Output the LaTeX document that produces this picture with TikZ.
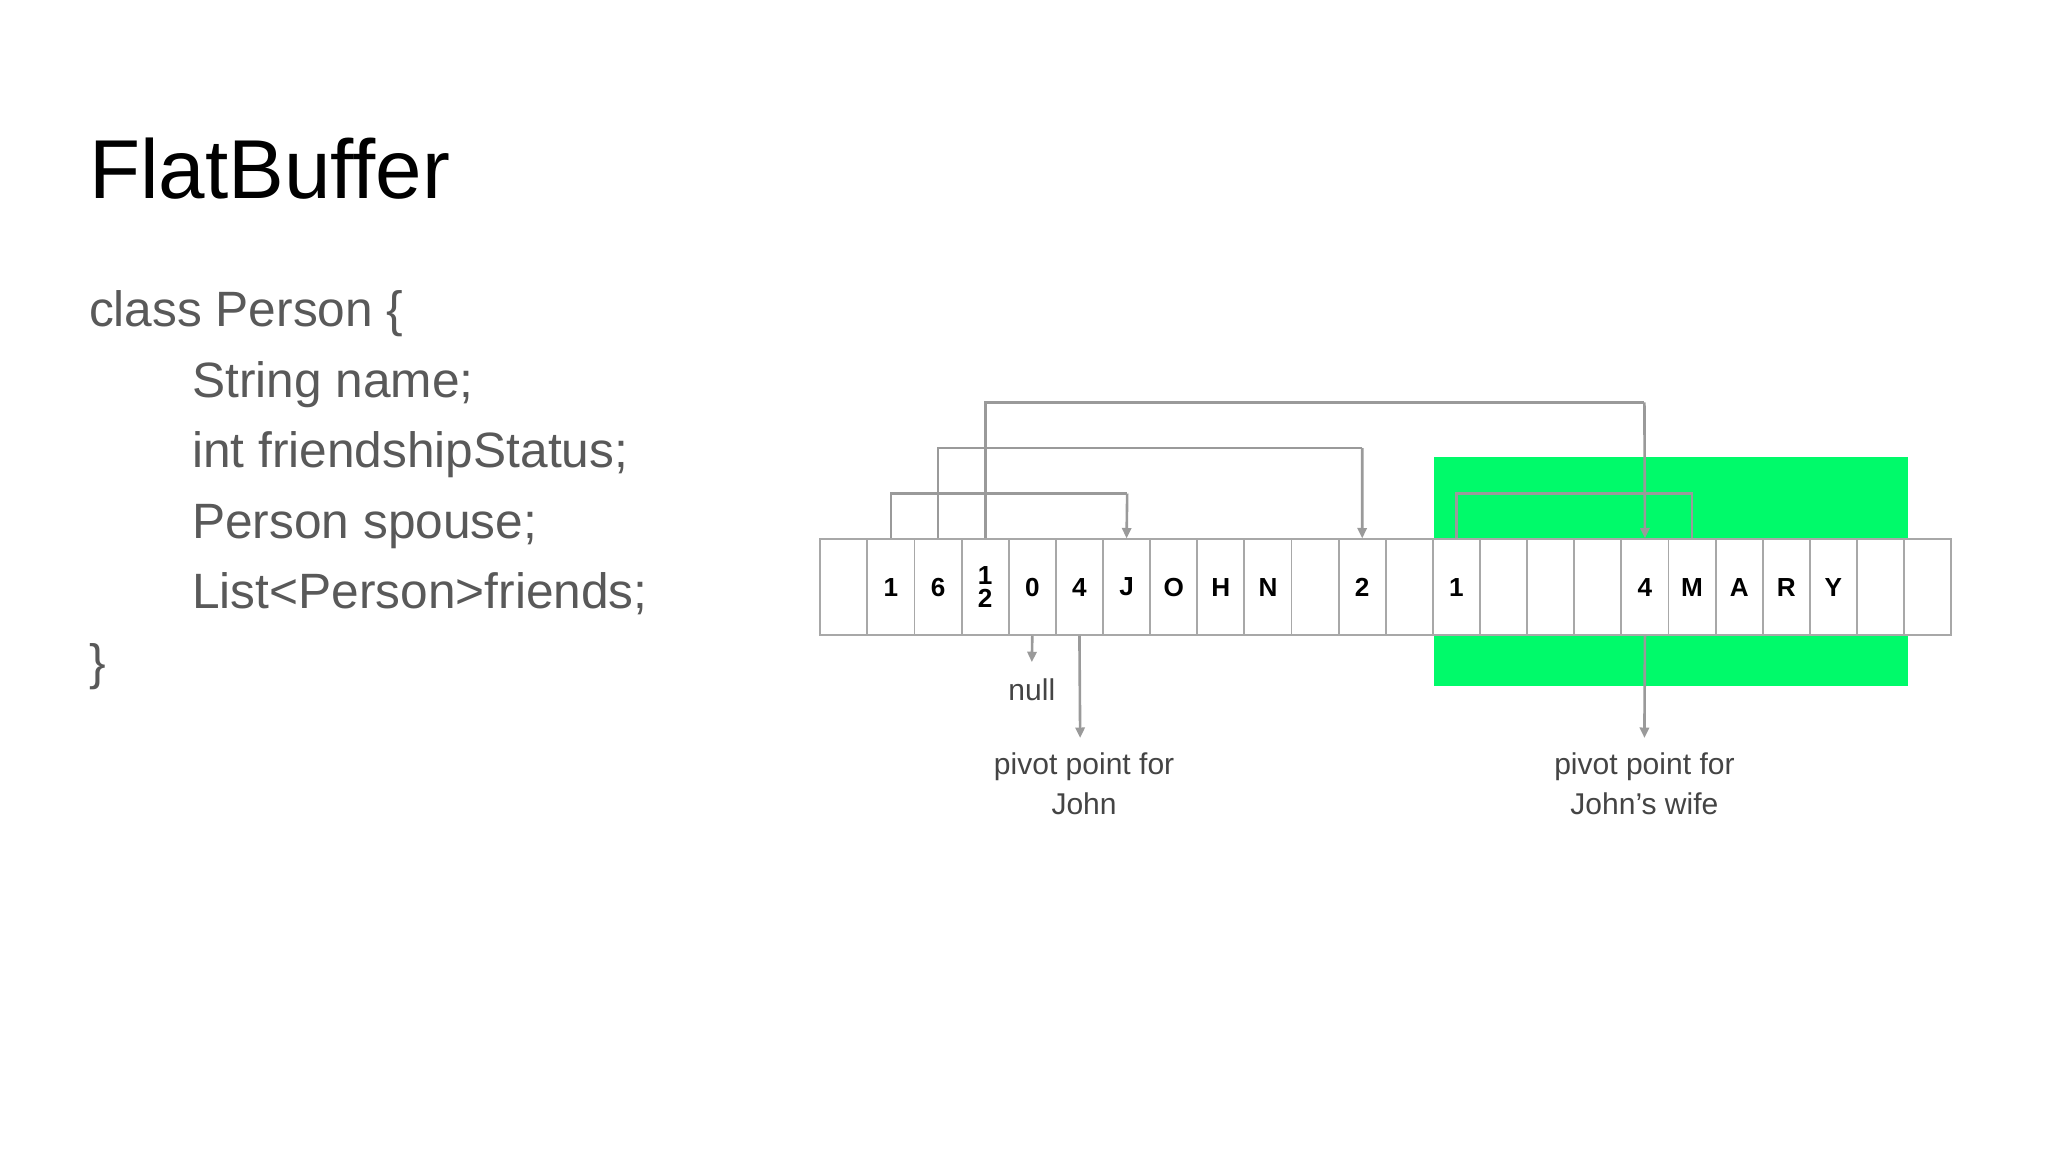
\documentclass[tikz,border=0pt]{standalone}
\usepackage{fontspec}
\setmainfont{Liberation Sans}
\usetikzlibrary{arrows.meta}
\definecolor{codegray}{HTML}{595959}
\definecolor{linegray}{HTML}{9A9A9A}
\definecolor{cellgray}{HTML}{A8A8A8}
\definecolor{brightgreen}{HTML}{00FA6A}
\definecolor{labelgray}{HTML}{444444}
\tikzset{
  cellbox/.style={draw=cellgray,line width=1.5pt,minimum width=36.08pt,minimum height=73pt,inner sep=0pt,font=\fontsize{20}{20}\selectfont\bfseries,text=black,align=center},
  conn/.style={draw=linegray,line width=2pt},
  arr/.style={conn,-{Triangle[length=8pt,width=7pt]}},
  lbl/.style={font=\fontsize{23}{31}\selectfont,text=labelgray,align=center},
  codeline/.style={anchor=base west,font=\fontsize{38}{38}\selectfont,text=codegray,inner sep=0pt}
}
\begin{document}
\begin{tikzpicture}[x=1pt,y=-1pt]
\useasboundingbox[fill=white] (0,0) rectangle (1568,882);
\node[anchor=base west,inner sep=0pt,font=\fontsize{64}{64}\selectfont] (title) at (68,152) {FlatBuffer};
\node[codeline] (l1) at (68,250) {class Person \{};
\node[codeline] (l2) at (147,304) {String name;};
\node[codeline] (l3) at (147,358) {int friendshipStatus;};
\node[codeline] (l4) at (147,412) {Person spouse;};
\node[codeline] (l5) at (147,466) {List<Person>friends;};
\node[codeline] (l6) at (68,520) {\}};
\fill[brightgreen] (1098,350) rectangle (1461,525);
\foreach \t [count=\i from 0] in {{},1,6,{1\\[-2pt]2},0,4,J,O,H,N,{},2,{},1,{},{},{},4,M,A,R,Y,{},{}}{
  \node[cellbox,fill=white] (c\i) at ({628+36.08*(\i+0.5)},449.5) {\t};
}
\draw[conn] (c1.north) |- (863,378);
\draw[arr] (863,378) -- (c6.north);
\draw[conn] (c2.north) |- (1043,343);
\draw[arr] (1043,343) -- (c11.north);
\draw[conn] (c3.north) |- (1259,308);
\draw[arr] (1259,308) -- (c17.north);
\draw[conn] (c13.north) |- (c18.north |- 0,378) -- (c18.north);
\node[lbl] (null) at (790,528) {null};
\node[lbl] (pj) at (830,600) {pivot point for\\John};
\node[lbl] (pw) at (1259,600) {pivot point for\\John’s wife};
\draw[arr] (c4.south) -- (790,507);
\draw[arr] (c5.south) -- (827,565);
\draw[arr] (c17.south) -- (1259,565);
\end{tikzpicture}
\end{document}
